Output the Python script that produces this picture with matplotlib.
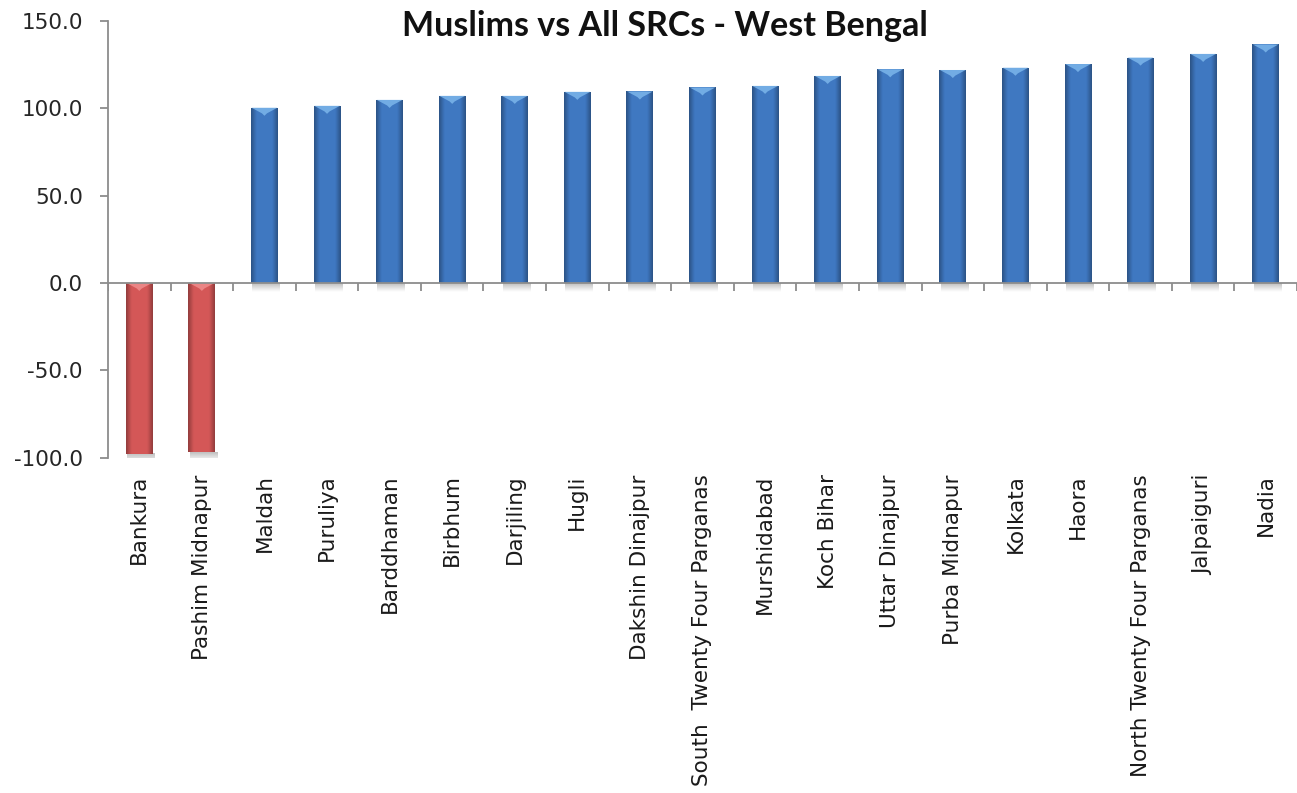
import numpy as np
import matplotlib.pyplot as plt
from matplotlib.patches import Polygon
from matplotlib.colors import to_rgb

# district ratios, Muslims vs all SRCs
districts = ['Bankura', 'Pashim Midnapur', 'Maldah', 'Puruliya', 'Barddhaman',
             'Birbhum', 'Darjiling', 'Hugli', 'Dakshin Dinajpur',
             'South  Twenty Four Parganas', 'Murshidabad', 'Koch Bihar',
             'Uttar Dinajpur', 'Purba Midnapur', 'Kolkata', 'Haora',
             'North Twenty Four Parganas', 'Jalpaiguri', 'Nadia']
values = [-97.7, -96.8, 100.2, 101.3, 104.7, 107.0, 107.0, 109.3, 109.5,
          111.8, 112.7, 118.4, 122.2, 121.8, 123.1, 125.2, 128.9, 131.0, 136.4]
yticks = [-100, -50, 0, 50, 100, 150]

fig = plt.figure(figsize=(12.97, 7.93), dpi=100)
ax = fig.add_axes([108 / 1297, 1 - 457.7 / 793, 1189 / 1297, (457.7 - 20.7) / 793])

x = np.arange(len(districts))
width = 0.43
bars = ax.bar(x, values, width=width, color='none', edgecolor='none', zorder=3)

def shade(base, n=64):
    # darker at both edges, flat in the middle -> rounded look
    base = np.array(to_rgb(base))
    t = np.linspace(0, 1, n)
    k = 0.70 + 0.32 * np.clip(np.sin(np.pi * t) * 1.6, 0, 1)
    return np.clip(base[None, :] * k[:, None], 0, 1)[None, :, :]

# soft gray fade used as the drop shadow under each bar
shadow = np.zeros((16, 1, 4))
shadow[..., :3] = 0.45
shadow[:, 0, 3] = np.linspace(0.45, 0, 16)

for b, v in zip(bars, values):
    base = '#D05656' if v < 0 else '#3E76BE'
    x0, x1 = b.get_x(), b.get_x() + b.get_width()
    xc = (x0 + x1) / 2
    y0, y1 = sorted([0, v])
    im = ax.imshow(shade(base), extent=(x0, x1, y0, y1), aspect='auto',
                   interpolation='bicubic', zorder=3)
    im.set_clip_path(b)
    # light bevel at the top of each bar
    cap = '#EE8B8B' if v < 0 else '#78B2E8'
    ax.add_patch(Polygon([(x0 + 0.01, y1), (x1 - 0.01, y1), (xc + 0.04, y1 - 3.2),
                          (xc, y1 - 4.6), (xc - 0.04, y1 - 3.2)],
                         closed=True, color=cap, alpha=0.9, lw=0, zorder=4))
    # shadow below the bar
    ax.imshow(shadow, extent=(x0 + 0.02, x1 + 0.03, y0 - 5, y0), aspect='auto',
              interpolation='bicubic', zorder=2)

ax.set_xlim(-0.5, len(districts) - 0.5)
ax.set_ylim(-100, 150)

# zero line with category separators
ax.axhline(0, color='#8C8C8C', lw=1.3, zorder=5)
ax.vlines(np.arange(len(districts) + 1) - 0.5, -4.5, 0, color='#8C8C8C', lw=1.3, zorder=5)

for s in ['top', 'right', 'bottom']:
    ax.spines[s].set_visible(False)
ax.spines['left'].set_color('#8C8C8C')
ax.spines['left'].set_linewidth(1.3)

ax.set_yticks(yticks)
ax.set_yticklabels([f'{t:.1f}' for t in yticks])
ax.tick_params(axis='y', length=6, width=1.3, color='#8C8C8C', labelsize=15.5, pad=12,
               labelcolor='#262626')

ax.set_xticks(x)
ax.set_xticklabels(districts, rotation=90, fontsize=15.5, color='#1A1A1A')
ax.tick_params(axis='x', length=0, pad=12)

fig.text(665 / 1297, 1 - 26 / 793, 'Muslims vs All SRCs - West Bengal',
         ha='center', va='center', fontsize=24.5, fontweight='bold',
         family=['Lato', 'DejaVu Sans'], color='#111111')

fig.savefig('out.png', dpi=100)
